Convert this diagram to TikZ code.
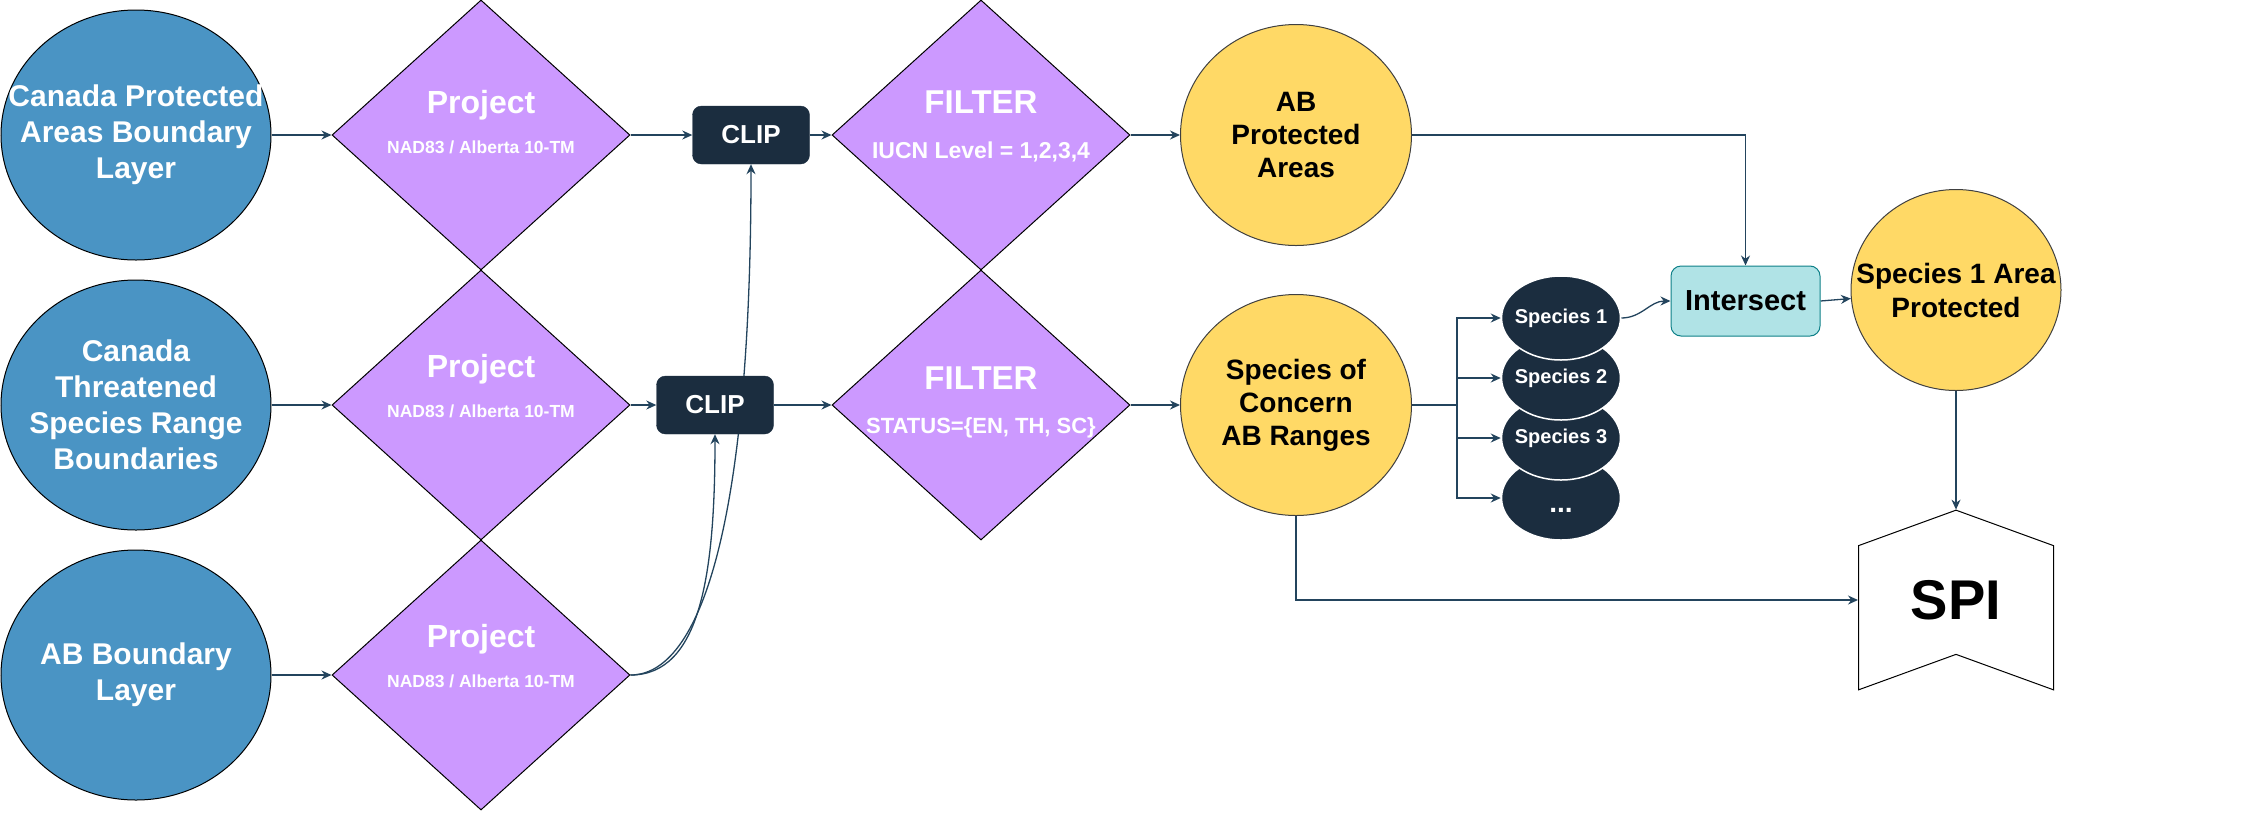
\documentclass[tikz,border=0pt]{standalone}
\usepackage{fontspec}
\setmainfont{Liberation Sans}
\usetikzlibrary{arrows.meta,positioning,shapes.geometric,shapes.symbols,backgrounds}
\definecolor{srcblue}{RGB}{74,148,196}
\definecolor{procpurple}{RGB}{204,153,255}
\definecolor{clipnavy}{RGB}{27,45,63}
\definecolor{resyellow}{RGB}{255,217,102}
\definecolor{intteal}{RGB}{176,227,230}
\definecolor{intedge}{RGB}{14,128,136}
\definecolor{flowslate}{RGB}{35,68,93}

\begin{document}
\begin{tikzpicture}[x=1pt,y=-1pt]
  \tikzstyle{src}=[ellipse,draw=black,line width=1pt,fill=srcblue,minimum width=270pt,
    minimum height=250pt,inner sep=-40pt,align=center,text=white,font=\fontsize{30}{36}\selectfont\bfseries]
  \tikzstyle{proc}=[diamond,draw=black,line width=1pt,fill=procpurple,minimum width=298pt,
    minimum height=270pt,inner sep=-45pt,align=center,text=white,text depth=24pt]
  \tikzstyle{projop}=[proc,font=\fontsize{17.5}{20}\selectfont\bfseries,text height=48pt]
  \tikzstyle{clipbox}=[draw=clipnavy,fill=clipnavy,rounded corners=9pt,minimum width=117pt,
    minimum height=58pt,text=white,font=\fontsize{26}{30}\selectfont\bfseries]
  \tikzstyle{result}=[ellipse,draw=black!75,line width=1pt,fill=resyellow,inner sep=-40pt,
    minimum width=231pt,minimum height=221pt,align=center,font=\fontsize{28}{33}\selectfont\bfseries]
  \tikzstyle{species}=[ellipse,draw=white,line width=1.5pt,fill=clipnavy,minimum width=119pt,
    minimum height=84pt,inner sep=-12pt,text=white,text height=14pt,text depth=4pt,
    font=\fontsize{20}{24}\selectfont\bfseries]
  \tikzstyle{isectbox}=[draw=intedge,line width=1pt,fill=intteal,rounded corners=10pt,
    minimum width=149pt,minimum height=70pt,font=\fontsize{29}{34}\selectfont\bfseries]
  \tikzstyle{spibox}=[signal,signal to=north,signal from=south,signal pointer angle=140,draw=black,
    line width=1pt,fill=white,minimum width=195pt,minimum height=144pt,font=\fontsize{56}{60}\selectfont\bfseries]
  \tikzstyle{f}=[-{Stealth[length=10pt,width=9pt]},flowslate,line width=1.3pt]

  \useasboundingbox (0,0) rectangle (2260,812);

  % -- source layers --
  \node[src] (canpa) at (136,135) {Canada Protected\\Areas Boundary\\Layer};
  \node[src] (canrng) at (136,405) {Canada\\Threatened\\Species Range\\Boundaries};
  \node[src] (abbnd) at (136,675) {AB Boundary\\Layer};

  % -- reprojection --
  \node[projop,text height=60pt] (proj1) at (481,135)
    {{\fontsize{32}{38}\selectfont Project}\\[20pt]NAD83 / Alberta 10-TM};
  \node[projop] (proj2) at (481,405)
    {{\fontsize{32}{38}\selectfont Project}\\[20pt]NAD83 / Alberta 10-TM};
  \node[projop] (proj3) at (481,675)
    {{\fontsize{32}{38}\selectfont Project}\\[20pt]NAD83 / Alberta 10-TM};

  % -- clip --
  \node[clipbox] (clip1) at (751,135) {CLIP};
  \node[clipbox] (clip2) at (715,405) {CLIP};

  % -- filters --
  \node[proc,font=\fontsize{23}{27}\selectfont\bfseries,text height=70pt] (filt1) at (981,135)
    {{\fontsize{33}{40}\selectfont FILTER}\\[18pt]IUCN Level = 1,2,3,4};
  \node[proc,font=\fontsize{22}{26}\selectfont\bfseries,text height=80pt] (filt2) at (981,405)
    {{\fontsize{33}{40}\selectfont FILTER}\\[18pt]STATUS=\{EN, TH, SC\}};

  % -- AB results --
  \node[result] (abpa) at (1296,135) {AB\\Protected\\Areas};
  \node[result] (soc) at (1296,405) {Species of\\Concern\\AB Ranges};

  % -- species split (bottom first, so Species 1 sits on top) --
  \node[species,text height=28pt,text depth=0pt,font=\fontsize{28}{30}\selectfont\bfseries]
    (spmore) at (1561,498) {...};
  \foreach \i/\y in {3/438,2/378,1/318}
    \node[species] (sp\i) at (1561,\y) {Species \i};

  % -- intersect and output --
  \node[isectbox] (isect) at (1745.5,301) {Intersect};
  \node[result,minimum width=210pt,minimum height=201pt,font=\fontsize{28}{34}\selectfont\bfseries]
    (spa) at (1956,290) {Species 1 Area\\Protected};
  \node[spibox] (spi) at (1956,600) {SPI};

  % -- connectors --
  \begin{scope}[on background layer]
    \foreach \a/\b in {canpa/proj1,canrng/proj2,abbnd/proj3,proj1/clip1,proj2/clip2,
                       clip1/filt1,clip2/filt2,filt1/abpa,filt2/soc}
      \draw[f] (\a) -- (\b);
    \draw[f] (proj3.east) .. controls +(70,0) and +(0,140) .. (clip2.south);
    \draw[f] (proj3.east) .. controls +(70,0) and +(0,360) .. (clip1.south);
    \draw[f] (abpa.east) -| (isect.north);
    \draw[flowslate,line width=1.3pt] (soc.east) -- ++(45,0) coordinate (fan);
    \foreach \s in {sp1,sp2,sp3,spmore}
      \draw[f] (fan) |- (\s.west);
    \draw[f] (sp1.east) to[out=0,in=180] (isect.west);
    \draw[f] (isect.east) -- (spa);
    \draw[f] (spa) -- (spi);
    \draw[f] (soc.south) |- (spi.west);
  \end{scope}
\end{tikzpicture}
\end{document}
